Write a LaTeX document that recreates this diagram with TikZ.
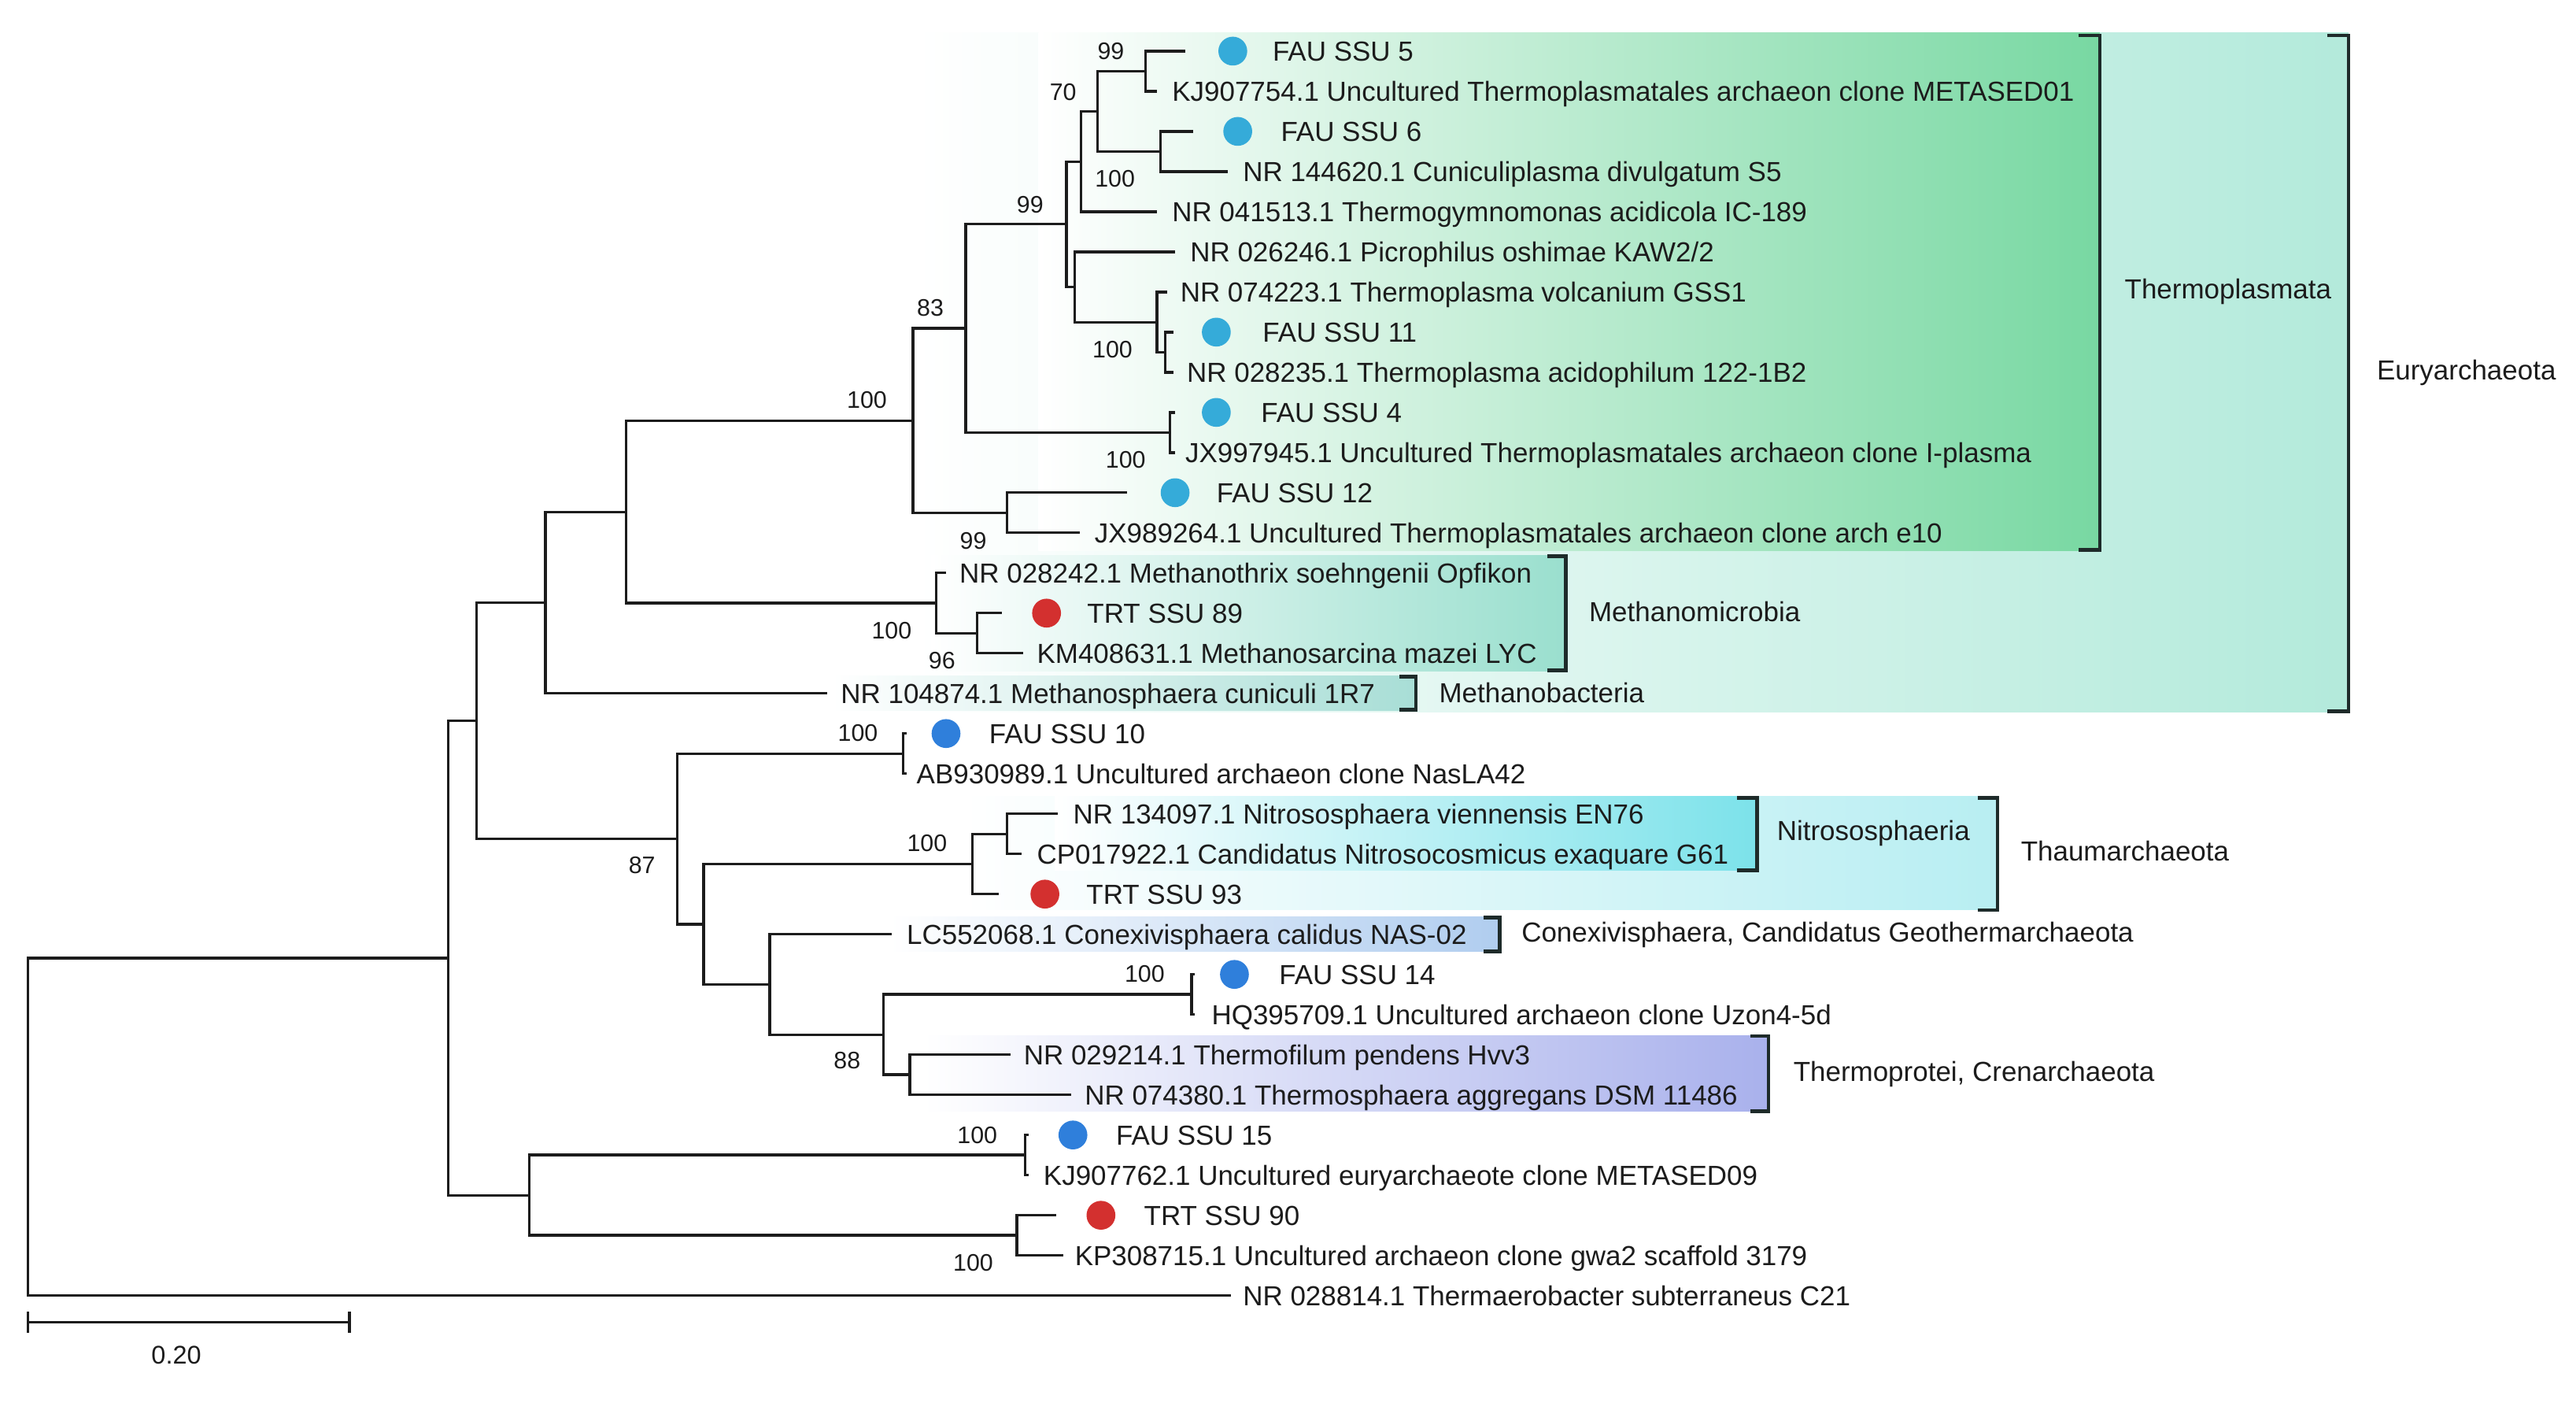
\documentclass[tikz,border=0pt]{standalone}
\usepackage{fontspec}
\setmainfont{Liberation Sans}
\definecolor{cThermo}{HTML}{78D8A2}
\definecolor{cEury}{HTML}{B3EADB}
\definecolor{cMethMi}{HTML}{9ADFCE}
\definecolor{cMethBa}{HTML}{A8DED6}
\definecolor{cThaum}{HTML}{B8EEF2}
\definecolor{cNitro}{HTML}{7CE2EA}
\definecolor{cConex}{HTML}{B0CDEF}
\definecolor{cCren}{HTML}{A9B1EC}
\definecolor{dotA}{HTML}{35ABD9}
\definecolor{dotB}{HTML}{2F7FDB}
\definecolor{dotR}{HTML}{D3302F}
\definecolor{ink}{HTML}{1C1C1C}
\definecolor{brkc}{HTML}{1E2B2A}
\begin{document}
\begin{tikzpicture}[x=1pt,y=-1pt,
  br/.style={line width=1.6pt, draw=ink, line join=miter},
  bs/.style={font=\fontsize{14.5}{17}\selectfont, inner sep=0pt, text=ink},
  lf/.style={font=\fontsize{16.7}{20}\selectfont, inner sep=0pt, anchor=base west, text=ink},
  brk/.style={line width=2.2pt, draw=brkc},
  dotc/.style={circle, inner sep=0pt, minimum size=17.5pt, fill=#1}
]
\useasboundingbox (0,0) rectangle (1563,855);
\fill[white] (0,0) rectangle (1563,855);

% ---------- shaded clade boxes ----------
\shade[left color=white, right color=cEury] (555,20) rectangle (1425,432);
\shade[left color=white, right color=cThermo] (630,20) rectangle (1274,334);
\shade[left color=white, right color=cMethMi] (565,337) rectangle (950,407);
\shade[left color=white, right color=cMethBa] (505,410) rectangle (859,431);
\shade[left color=white, right color=cThaum] (585,483) rectangle (1212,552);
\shade[left color=white, right color=cNitro] (640,483) rectangle (1066,528);
\shade[left color=white, right color=cConex] (540,556) rectangle (910,577);
\shade[left color=white, right color=cCren] (560,628) rectangle (1073,674);

% ---------- brackets ----------
\draw[brk] (1261,21.5) -- (1274,21.5) -- (1274,333.5) -- (1261,333.5);
\draw[brk] (1412,21.5) -- (1425,21.5) -- (1425,431.5) -- (1412,431.5);
\draw[brk] (939,337.5) -- (950,337.5) -- (950,406.5) -- (939,406.5);
\draw[brk] (849,410.5) -- (859,410.5) -- (859,430.5) -- (849,430.5);
\draw[brk] (1054,484) -- (1066,484) -- (1066,528) -- (1054,528);
\draw[brk] (1200,484) -- (1212,484) -- (1212,552) -- (1200,552);
\draw[brk] (900,556.5) -- (910,556.5) -- (910,577) -- (900,577);
\draw[brk] (1062,628.5) -- (1073,628.5) -- (1073,674) -- (1062,674);

% ---------- group labels ----------
\node[lf] (gThermo) at (1289,181) {Thermoplasmata};
\node[lf] (gEury) at (1442,230.5) {Euryarchaeota};
\node[lf] (gMethMi) at (964,377) {Methanomicrobia};
\node[lf] (gMethBa) at (873,426) {Methanobacteria};
\node[lf] (gNitro) at (1078,510) {Nitrososphaeria};
\node[lf] (gThaum) at (1226,522) {Thaumarchaeota};
\node[lf] (gConex) at (923,571.5) {Conexivisphaera, Candidatus Geothermarchaeota};
\node[lf] (gCren) at (1088,656) {Thermoprotei, Crenarchaeota};

% ---------- tree coordinates ----------
% internal nodes
\coordinate (nA) at (695,43.2);
\coordinate (nB) at (704,91.9);
\coordinate (nC) at (666,67.5);
\coordinate (nD) at (656,98.0);
\coordinate (nE) at (707,213.6);
\coordinate (nF) at (702,195.4);
\coordinate (nG) at (652,174.1);
\coordinate (nH) at (647,136.0);
\coordinate (nI) at (710,262.3);
\coordinate (nJ) at (586,199.2);
\coordinate (nK) at (611,311.0);
\coordinate (nL) at (554,255.1);
\coordinate (nM) at (593,384.1);
\coordinate (nN) at (568,365.8);
\coordinate (nO) at (380,310.5);
\coordinate (nP) at (331,365.5);
\coordinate (nQ) at (548,457.1);
\coordinate (nR) at (611,505.8);
\coordinate (nS) at (590,524.1);
\coordinate (nT) at (723,603.2);
\coordinate (nU) at (552,651.9);
\coordinate (nV) at (536,627.6);
\coordinate (nW) at (467,597.1);
\coordinate (nX) at (427,560.6);
\coordinate (nY) at (411,508.9);
\coordinate (nZ) at (289,437.2);
\coordinate (nAA) at (622,700.6);
\coordinate (nAB) at (617,749.3);
\coordinate (nAC) at (321,725.0);
\coordinate (nAD) at (272,581.1);
\coordinate (root) at (17,683.5);
% leaf tips
\coordinate (t1) at (719,31.0);
\coordinate (t2) at (702,55.35);
\coordinate (t3) at (724,79.7);
\coordinate (t4) at (745,104.05);
\coordinate (t5) at (702,128.4);
\coordinate (t6) at (713,152.75);
\coordinate (t7) at (708,177.1);
\coordinate (t8) at (712,201.45);
\coordinate (t9) at (712,225.8);
\coordinate (t10) at (713,250.15);
\coordinate (t11) at (713,274.5);
\coordinate (t12) at (684,298.85);
\coordinate (t13) at (655,323.2);
\coordinate (t14) at (574,347.55);
\coordinate (t15) at (608,371.9);
\coordinate (t16) at (621,396.25);
\coordinate (t17) at (502,420.6);
\coordinate (t18) at (550,444.95);
\coordinate (t19) at (550,469.3);
\coordinate (t20) at (642,493.65);
\coordinate (t21) at (620,518.0);
\coordinate (t22) at (606,542.35);
\coordinate (t23) at (541,566.7);
\coordinate (t24) at (725,591.05);
\coordinate (t25) at (725,615.4);
\coordinate (t26) at (613,639.75);
\coordinate (t27) at (650,664.1);
\coordinate (t28) at (624,688.45);
\coordinate (t29) at (624,712.8);
\coordinate (t30) at (641,737.15);
\coordinate (t31) at (645,761.5);
\coordinate (t32) at (747,785.85);

% ---------- branches ----------
\draw[br] (nA) |- (t1);  \draw[br] (nA) |- (t2);
\draw[br] (nB) |- (t3);  \draw[br] (nB) |- (t4);
\draw[br] (nC) |- (nA);  \draw[br] (nC) |- (nB);
\draw[br] (nD) |- (nC);  \draw[br] (nD) |- (t5);
\draw[br] (nE) |- (t8);  \draw[br] (nE) |- (t9);
\draw[br] (nF) |- (t7);  \draw[br] (nF) |- (nE);
\draw[br] (nG) |- (t6);  \draw[br] (nG) |- (nF);
\draw[br] (nH) |- (nD);  \draw[br] (nH) |- (nG);
\draw[br] (nI) |- (t10); \draw[br] (nI) |- (t11);
\draw[br] (nJ) |- (nH);  \draw[br] (nJ) |- (nI);
\draw[br] (nK) |- (t12); \draw[br] (nK) |- (t13);
\draw[br] (nL) |- (nJ);  \draw[br] (nL) |- (nK);
\draw[br] (nM) |- (t15); \draw[br] (nM) |- (t16);
\draw[br] (nN) |- (t14); \draw[br] (nN) |- (nM);
\draw[br] (nO) |- (nL);  \draw[br] (nO) |- (nN);
\draw[br] (nP) |- (nO);  \draw[br] (nP) |- (t17);
\draw[br] (nQ) |- (t18); \draw[br] (nQ) |- (t19);
\draw[br] (nR) |- (t20); \draw[br] (nR) |- (t21);
\draw[br] (nS) |- (nR);  \draw[br] (nS) |- (t22);
\draw[br] (nT) |- (t24); \draw[br] (nT) |- (t25);
\draw[br] (nU) |- (t26); \draw[br] (nU) |- (t27);
\draw[br] (nV) |- (nT);  \draw[br] (nV) |- (nU);
\draw[br] (nW) |- (t23); \draw[br] (nW) |- (nV);
\draw[br] (nX) |- (nS);  \draw[br] (nX) |- (nW);
\draw[br] (nY) |- (nQ);  \draw[br] (nY) |- (nX);
\draw[br] (nZ) |- (nP);  \draw[br] (nZ) |- (nY);
\draw[br] (nAA) |- (t28); \draw[br] (nAA) |- (t29);
\draw[br] (nAB) |- (t30); \draw[br] (nAB) |- (t31);
\draw[br] (nAC) |- (nAA); \draw[br] (nAC) |- (nAB);
\draw[br] (nAD) |- (nZ);  \draw[br] (nAD) |- (nAC);
\draw[br] (root) |- (nAD); \draw[br] (root) |- (t32);

% ---------- bootstrap values ----------
\node[bs] (b1) at (674,31) {99};
\node[bs] (b2) at (645,56) {70};
\node[bs] (b3) at (676.5,108.5) {100};
\node[bs] (b4) at (625,124) {99};
\node[bs] (b5) at (564.5,186.5) {83};
\node[bs] (b6) at (526,242.5) {100};
\node[bs] (b7) at (675,212) {100};
\node[bs] (b8) at (683,279) {100};
\node[bs] (b9) at (590.5,328) {99};
\node[bs] (b10) at (541,382.5) {100};
\node[bs] (b11) at (571.5,400.5) {96};
\node[bs] (b12) at (520.5,444.5) {100};
\node[bs] (b13) at (389.5,525) {87};
\node[bs] (b14) at (562.5,511.5) {100};
\node[bs] (b15) at (694.5,590.5) {100};
\node[bs] (b16) at (514,643.5) {88};
\node[bs] (b17) at (593,688.5) {100};
\node[bs] (b18) at (590.5,766) {100};

% ---------- sample dots ----------
\node[dotc=dotA] (d1) at (748,31.0) {};
\node[dotc=dotA] (d3) at (751,79.7) {};
\node[dotc=dotA] (d8) at (738,201.45) {};
\node[dotc=dotA] (d10) at (738,250.15) {};
\node[dotc=dotA] (d12) at (713,298.85) {};
\node[dotc=dotR] (d15) at (635,371.9) {};
\node[dotc=dotB] (d18) at (574,444.95) {};
\node[dotc=dotR] (d22) at (634,542.35) {};
\node[dotc=dotB] (d24) at (749,591.05) {};
\node[dotc=dotB] (d28) at (651,688.45) {};
\node[dotc=dotR] (d30) at (668,737.15) {};

% ---------- leaf labels ----------
\node[lf] (l1) at (772,37.0) {FAU SSU 5};
\node[lf] (l2) at (711,61.35) {KJ907754.1 Uncultured Thermoplasmatales archaeon clone METASED01};
\node[lf] (l3) at (777,85.7) {FAU SSU 6};
\node[lf] (l4) at (754,110.05) {NR 144620.1 Cuniculiplasma divulgatum S5};
\node[lf] (l5) at (711,134.4) {NR 041513.1 Thermogymnomonas acidicola IC-189};
\node[lf] (l6) at (722,158.75) {NR 026246.1 Picrophilus oshimae KAW2/2};
\node[lf] (l7) at (716,183.1) {NR 074223.1 Thermoplasma volcanium GSS1};
\node[lf] (l8) at (766,207.45) {FAU SSU 11};
\node[lf] (l9) at (720,231.8) {NR 028235.1 Thermoplasma acidophilum 122-1B2};
\node[lf] (l10) at (765,256.15) {FAU SSU 4};
\node[lf] (l11) at (719,280.5) {JX997945.1 Uncultured Thermoplasmatales archaeon clone I-plasma};
\node[lf] (l12) at (738,304.85) {FAU SSU 12};
\node[lf] (l13) at (664,329.2) {JX989264.1 Uncultured Thermoplasmatales archaeon clone arch e10};
\node[lf] (l14) at (582,353.55) {NR 028242.1 Methanothrix soehngenii Opfikon};
\node[lf] (l15) at (659.5,377.9) {TRT SSU 89};
\node[lf] (l16) at (629,402.25) {KM408631.1 Methanosarcina mazei LYC};
\node[lf] (l17) at (510,426.6) {NR 104874.1 Methanosphaera cuniculi 1R7};
\node[lf] (l18) at (600,450.95) {FAU SSU 10};
\node[lf] (l19) at (556,475.3) {AB930989.1 Uncultured archaeon clone NasLA42};
\node[lf] (l20) at (651,499.65) {NR 134097.1 Nitrososphaera viennensis EN76};
\node[lf] (l21) at (629,524.0) {CP017922.1 Candidatus Nitrosocosmicus exaquare G61};
\node[lf] (l22) at (659,548.35) {TRT SSU 93};
\node[lf] (l23) at (550,572.7) {LC552068.1 Conexivisphaera calidus NAS-02};
\node[lf] (l24) at (776,597.05) {FAU SSU 14};
\node[lf] (l25) at (735,621.4) {HQ395709.1 Uncultured archaeon clone Uzon4-5d};
\node[lf] (l26) at (621,645.75) {NR 029214.1 Thermofilum pendens Hvv3};
\node[lf] (l27) at (658,670.1) {NR 074380.1 Thermosphaera aggregans DSM 11486};
\node[lf] (l28) at (677,694.45) {FAU SSU 15};
\node[lf] (l29) at (633,718.8) {KJ907762.1 Uncultured euryarchaeote clone METASED09};
\node[lf] (l30) at (694,743.15) {TRT SSU 90};
\node[lf] (l31) at (652,767.5) {KP308715.1 Uncultured archaeon clone gwa2 scaffold 3179};
\node[lf] (l32) at (754,791.85) {NR 028814.1 Thermaerobacter subterraneus C21};

% ---------- scale bar ----------
\coordinate (s0) at (17,802);
\coordinate (s1) at (212,802);
\draw[br] (s0) -- (s1);
\draw[br] ([yshift=6.5pt]s0) -- ([yshift=-6.5pt]s0);
\draw[br] ([yshift=6.5pt]s1) -- ([yshift=-6.5pt]s1);
\node[bs, font=\fontsize{15.5}{18}\selectfont] (scl) at (107,822) {0.20};
\end{tikzpicture}
\end{document}
